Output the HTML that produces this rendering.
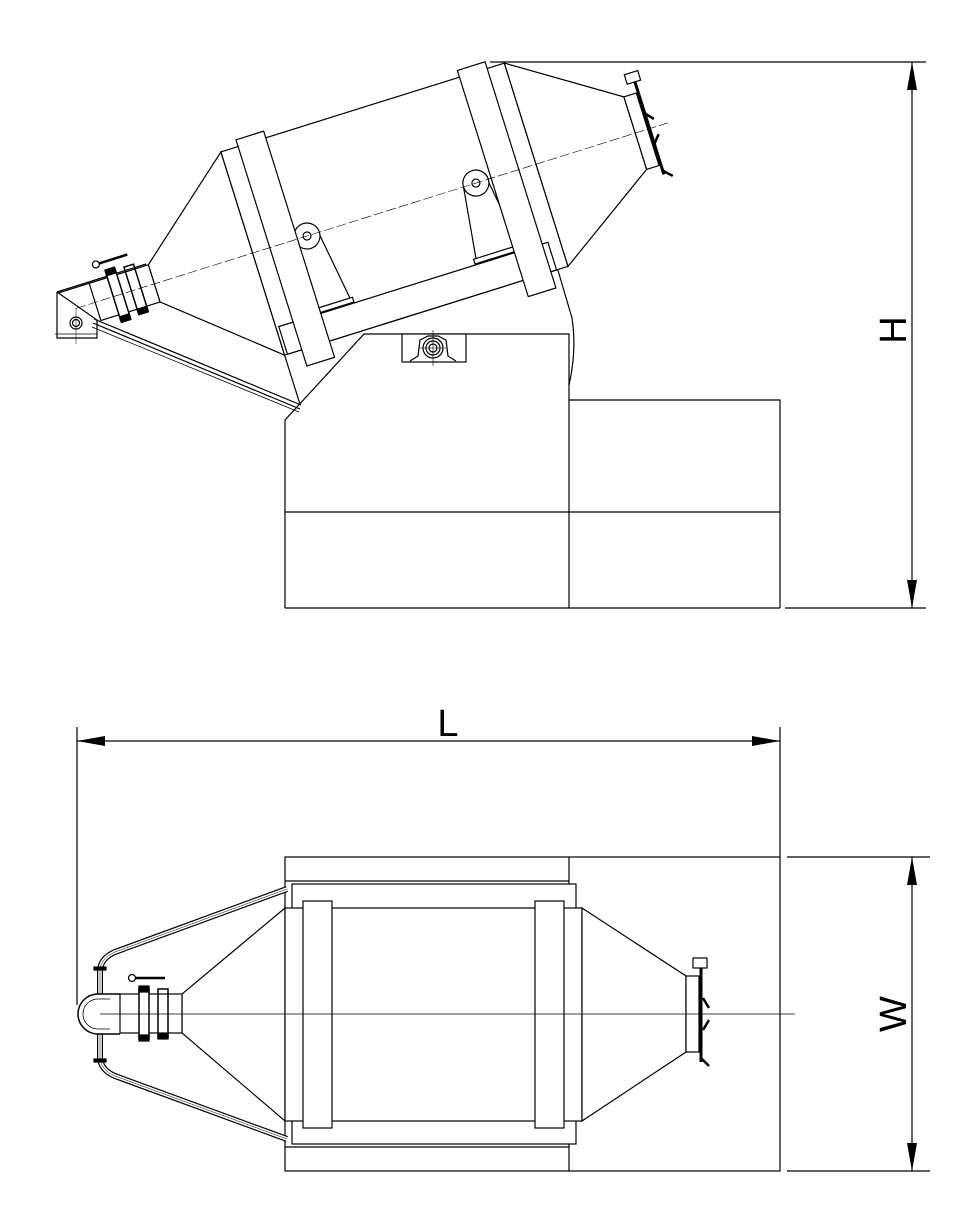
<!DOCTYPE html>
<html><head><meta charset="utf-8"><style>
html,body{margin:0;padding:0;background:#fff;}
svg{display:block;}
text{font-family:"Liberation Sans",sans-serif;fill:#000;}
</style></head><body>
<svg width="976" height="1213" viewBox="0 0 976 1213" xmlns="http://www.w3.org/2000/svg">
<g fill="none" stroke="#000" stroke-width="1.2">

<!-- ===== SIDE VIEW ===== -->
<!-- base -->
<polyline points="285,608 285,420 364,334 569,334 569,608"/>
<line x1="285" y1="608" x2="780" y2="608"/>
<line x1="285" y1="512" x2="780" y2="512"/>
<polyline points="569,400 780,400 780,608"/>
<rect x="402" y="334" width="64" height="28" fill="#fff"/>
<path d="M410,361 L418,356 L420,340 L428,336 L438,336 L446,340 L448,356 L456,361"/>
<circle cx="433" cy="348" r="10"/><circle cx="433" cy="348" r="7"/><circle cx="433" cy="348" r="4"/>
<line x1="433" y1="330" x2="433" y2="366" stroke-width="0.6"/>
<line x1="419" y1="348" x2="447" y2="348" stroke-width="0.6"/>
<!-- curve right -->
<path d="M557,267 L572,318 Q577,350 569,385"/>
<!-- chute -->
<polyline points="57,292 57,338 97,338 97,320 57,292"/>
<line x1="57" y1="292" x2="146" y2="264"/>
<line x1="55" y1="334" x2="97" y2="334" stroke-width="0.8"/>
<circle cx="76" cy="323" r="6"/><circle cx="76" cy="323" r="3.5"/>
<line x1="76" y1="308" x2="76" y2="344" stroke-width="0.5"/>
<line x1="94" y1="319" x2="301" y2="405"/>
<line x1="93" y1="323" x2="300" y2="409"/>
<line x1="92" y1="327" x2="299" y2="412" stroke-width="0.8"/>

<g transform="translate(307,236) rotate(-17.4) translate(-342,-1014)">
  <line x1="285" y1="1121" x2="285" y2="1173"/>
  <polygon points="285,908 182,994 182,1033 285,1121" fill="#fff"/>
  <rect x="285" y="908" width="297" height="213" fill="#fff"/>
  <line x1="87" y1="994" x2="120" y2="994"/>
  <rect x="120" y="994" width="62" height="39" fill="#fff"/>
  <rect x="139" y="988" width="10" height="51" fill="#fff" stroke-width="1.5"/>
  <rect x="139" y="986" width="10" height="6" fill="#000"/><rect x="139" y="1035" width="10" height="6" fill="#000"/>
  <rect x="158" y="989" width="10" height="49" stroke-width="1.5"/>
  <rect x="158" y="1034" width="10" height="5" fill="#000"/>
  <line x1="130" y1="978" x2="165" y2="978" stroke-width="2.5"/>
  <circle cx="132" cy="978" r="3.5" fill="#fff"/>
  <!-- pivot supports -->
  <polyline points="329,1014 319,1090 365,1090 354,1014" fill="#fff"/>
  <rect x="317" y="1086" width="50" height="5" fill="#fff"/>
  <polyline points="506,1014 496,1090 542,1090 531,1014" fill="#fff"/>
  <rect x="494" y="1086" width="50" height="5" fill="#fff"/>
  <circle cx="342" cy="1014" r="13" fill="#fff"/><circle cx="342" cy="1014" r="4"/>
  <circle cx="519" cy="1014" r="13" fill="#fff"/><circle cx="519" cy="1014" r="4"/>
  <!-- beam -->
  <rect x="288" y="1092" width="282" height="29" fill="#fff"/>
  <!-- bands -->
  <rect x="303" y="901" width="29" height="237" fill="#fff"/>
  <rect x="535" y="901" width="29" height="237" fill="#fff"/>
  <polygon points="582,908 686,976 686,1052 582,1121" fill="#fff"/>
  <rect x="686" y="976" width="13" height="76" fill="#fff"/>
  <line x1="701" y1="960" x2="701" y2="1062" stroke-width="3"/>
  <rect x="693" y="955" width="14" height="10" fill="#fff"/>
  <path d="M701,998 L708,1006 M701,1030 L708,1022 M701,1058 L709,1066" stroke-width="2.5"/>
  <line x1="100" y1="1014" x2="720" y2="1014" stroke-width="0.6" stroke-dasharray="10,3"/>
</g>

<!-- ===== PLAN VIEW ===== -->
<rect x="285" y="857" width="495" height="314"/>
<line x1="569" y1="857" x2="569" y2="1171"/>
<line x1="285" y1="881" x2="569" y2="881"/>
<line x1="285" y1="1147" x2="569" y2="1147"/>
<rect x="292" y="884" width="284" height="260" fill="#fff"/>
<!-- tubes -->
<g stroke-width="6"><path d="M287,889 L115,952 Q101,958 100,970 L100,1000"/><path d="M287,1139 L115,1076 Q101,1070 100,1058 L100,1028"/></g>
<g stroke="#fff" stroke-width="3.6"><path d="M287,889 L115,952 Q101,958 100,970 L100,1000"/><path d="M287,1139 L115,1076 Q101,1070 100,1058 L100,1028"/></g>
<g stroke-width="0.5"><path d="M287,889 L115,952 Q101,958 100,970 L100,1000"/><path d="M287,1139 L115,1076 Q101,1070 100,1058 L100,1028"/></g>
<rect x="94" y="967" width="12" height="3" fill="#000"/><rect x="94" y="1059" width="12" height="3" fill="#000"/>
<path d="M120,994 L98,994 A20,20 0 0 0 98,1034 L120,1034" stroke-width="1.5" fill="#fff"/>
<path d="M110,999 L98,999 A15,15 0 0 0 98,1029 L110,1029" stroke-width="0.8"/>
<g>
  <polygon points="285,908 182,994 182,1033 285,1121" fill="#fff"/>
  <rect x="285" y="908" width="297" height="213" fill="#fff"/>
  <rect x="120" y="994" width="62" height="39" fill="#fff"/>
  <rect x="139" y="988" width="10" height="51" fill="#fff" stroke-width="1.5"/>
  <rect x="139" y="986" width="10" height="6" fill="#000"/><rect x="139" y="1035" width="10" height="6" fill="#000"/>
  <rect x="158" y="989" width="10" height="49" stroke-width="1.5"/>
  <rect x="158" y="1034" width="10" height="5" fill="#000"/>
  <line x1="130" y1="978" x2="165" y2="978" stroke-width="2.5"/>
  <circle cx="132" cy="978" r="3.5" fill="#fff"/>
  <rect x="303" y="901" width="29" height="227" fill="#fff"/>
  <rect x="535" y="901" width="29" height="227" fill="#fff"/>
  <polygon points="582,908 686,976 686,1052 582,1121" fill="#fff"/>
  <rect x="686" y="976" width="13" height="76" fill="#fff"/>
  <line x1="701" y1="960" x2="701" y2="1062" stroke-width="3"/>
  <rect x="693" y="958" width="14" height="10" fill="#fff"/>
  <path d="M703,998 L709,1008 M703,1030 L709,1020 M701,1058 L709,1066" stroke-width="2.5"/>
  <line x1="100" y1="1014" x2="795" y2="1014" stroke-width="0.8"/>
</g>

<!-- ===== DIMENSIONS ===== -->
<line x1="490" y1="62" x2="926" y2="62"/>
<line x1="785" y1="608" x2="926" y2="608"/>
<line x1="912" y1="62" x2="912" y2="608"/>
<line x1="77" y1="727" x2="77" y2="1005"/>
<line x1="780" y1="727" x2="780" y2="857"/>
<line x1="77" y1="741" x2="780" y2="741"/>
<line x1="787" y1="857" x2="930" y2="857"/>
<line x1="787" y1="1171" x2="930" y2="1171"/>
<line x1="912" y1="857" x2="912" y2="1171"/>
</g>
<g fill="#000">
<polygon points="912,62 907,90 917,90"/><polygon points="912,608 907,580 917,580"/>
<polygon points="77,741 105,736 105,746"/><polygon points="780,741 752,736 752,746"/>
<polygon points="912,857 907,885 917,885"/><polygon points="912,1171 907,1143 917,1143"/>
</g>
<text x="448" y="736" font-size="38" text-anchor="middle">L</text>
<text transform="translate(906,330) rotate(-90)" font-size="38" text-anchor="middle">H</text>
<text transform="translate(906,1014) rotate(-90)" font-size="38" text-anchor="middle">W</text>
</svg>
</body></html>
